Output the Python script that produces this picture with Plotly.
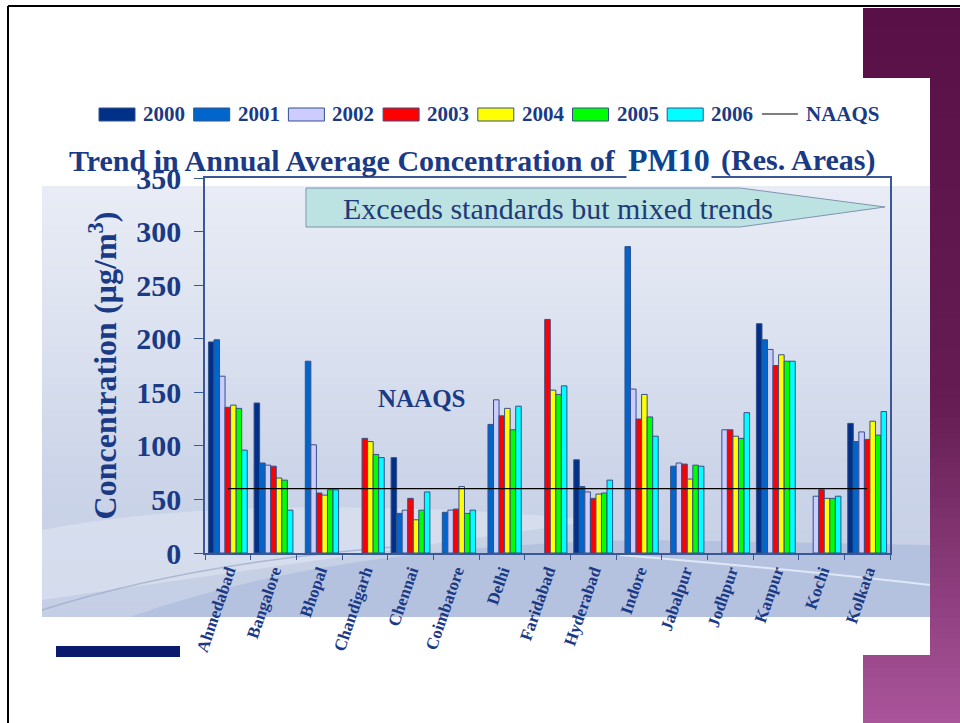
import plotly.graph_objects as go

cities = ["Ahmedabad", "Bangalore", "Bhopal", "Chandigarh", "Chennai", "Coimbatore",
          "Delhi", "Faridabad", "Hyderabad", "Indore", "Jabalpur", "Jodhpur",
          "Kanpur", "Kochi", "Kolkata"]
years = ["2000", "2001", "2002", "2003", "2004", "2005", "2006"]
y2000 = [197, 140, None, None, 89, None, None, None, 87, None, None, None, 214, None, 121]
y2001 = [199, 84, 179, None, 37, 38, 120, None, 62, 286, 81, None, 199, None, 104]
y2002 = [165, 82, 101, None, 40, 40, 143, None, 57, 153, 84, 115, 190, 53, 113]
y2003 = [136, 81, 56, 107, 51, 41, 128, 218, 51, 125, 83, 115, 175, 59, 106]
y2004 = [138, 70, 54, 104, 31, 62, 135, 152, 55, 148, 69, 109, 185, 51, 123]
y2005 = [135, 68, 59, 92, 40, 37, 115, 148, 56, 127, 82, 107, 179, 51, 110]
y2006 = [96, 40, 59, 89, 57, 40, 137, 156, 68, 109, 81, 131, 179, 53, 132]
naaqs = [60] * len(cities)
series = [y2000, y2001, y2002, y2003, y2004, y2005, y2006]
colors = ["#003087", "#0066cc", "#ccccff", "#ff0000", "#ffff00", "#00ff00", "#00ffff"]

W, H = 960, 723
PL, PR, PT, PB = 205, 890, 178, 553
NAVY = "#1b3a85"
SERIF = "Liberation Serif"


def fx(px):
    return (px - PL) / (PR - PL)


def fy(py):
    return (PB - py) / (PB - PT)


fig = go.Figure()
for name, vals, col in zip(years, series, colors):
    fig.add_trace(go.Bar(x=cities, y=vals, name=name, marker=dict(color=col, line=dict(color="#34508a", width=1)),
                         showlegend=False))
fig.add_trace(go.Scatter(x=cities, y=naaqs, mode="lines", name="NAAQS",
                         line=dict(color="black", width=1.2), showlegend=False))

shapes = []
annotations = []


def ann(px, py, text, size, color=NAVY, xanchor="center", yanchor="middle", **kw):
    d = dict(x=fx(px), y=fy(py), xref="paper", yref="paper", text=text, showarrow=False,
             xanchor=xanchor, yanchor=yanchor, font=dict(family=SERIF, size=size, color=color))
    d.update(kw)
    annotations.append(d)


def lerp(c1, c2, t):
    return tuple(int(round(a + (b - a) * t)) for a, b in zip(c1, c2))


# background gradient band
stops = [(186, (233, 236, 245)), (330, (220, 226, 240)), (480, (203, 212, 232)), (617, (196, 206, 228))]
ys = list(range(186, 617, 8)) + [617]
bg_rects = []
for i in range(len(ys) - 1):
    yc = (ys[i] + ys[i + 1]) / 2
    for j in range(len(stops) - 1):
        if stops[j][0] <= yc <= stops[j + 1][0]:
            t = (yc - stops[j][0]) / (stops[j + 1][0] - stops[j][0])
            c = lerp(stops[j][1], stops[j + 1][1], t)
            break
    bg_rects.append(dict(type="rect", xref="paper", yref="paper", layer="below",
                         x0=fx(42), x1=fx(930), y0=fy(ys[i + 1]), y1=fy(ys[i]),
                         fillcolor="rgb(%d,%d,%d)" % c, line=dict(width=0)))


def P(px, py):
    return "%f,%f" % (fx(px), fy(py))


# purple decoration on the right
pstops = [(8, (88, 16, 70)), (400, (100, 28, 82)), (723, (170, 85, 155))]
pys = list(range(8, 723, 10)) + [723]
for i in range(len(pys) - 1):
    yc = (pys[i] + pys[i + 1]) / 2
    for j in range(len(pstops) - 1):
        if pstops[j][0] <= yc <= pstops[j + 1][0]:
            t = (yc - pstops[j][0]) / (pstops[j + 1][0] - pstops[j][0])
            c = lerp(pstops[j][1], pstops[j + 1][1], t)
            break
    shapes.append(dict(type="rect", xref="paper", yref="paper", layer="below",
                       x0=fx(863), x1=fx(961), y0=fy(pys[i + 1]), y1=fy(pys[i]),
                       fillcolor="rgb(%d,%d,%d)" % c, line=dict(width=0)))
shapes.append(dict(type="rect", xref="paper", yref="paper", layer="below",
                   x0=fx(863), x1=fx(930), y0=fy(655), y1=fy(78),
                   fillcolor="white", line=dict(width=0)))
shapes.extend(bg_rects)

# light swoosh and dark wave at the bottom
shapes.append(dict(type="path", xref="paper", yref="paper", layer="below",
                   path="M%s Q%s %s L%s Z" % (P(42, 530), P(250, 490), P(600, 520), P(42, 600)),
                   fillcolor="rgba(228,234,246,0.5)", line=dict(width=0)))
shapes.append(dict(type="path", xref="paper", yref="paper", layer="below",
                   path="M%s Q%s %s L%s L%s Z" % (P(130, 617), P(330, 545), P(650, 540), P(930, 545), P(930, 617)),
                   fillcolor="rgb(180,194,224)", line=dict(width=0)))
shapes.append(dict(type="path", xref="paper", yref="paper", layer="below",
                   path="M%s Q%s %s" % (P(42, 610), P(200, 560), P(420, 545)),
                   line=dict(color="rgba(160,175,205,0.8)", width=1.5)))
shapes.append(dict(type="path", xref="paper", yref="paper", layer="below",
                   path="M%s Q%s %s" % (P(620, 555), P(800, 570), P(930, 585)),
                   line=dict(color="rgba(235,240,250,0.8)", width=2)))

# black slide border
shapes.append(dict(type="line", xref="paper", yref="paper", x0=fx(8), x1=fx(961), y0=fy(6), y1=fy(6),
                   line=dict(color="black", width=2)))
shapes.append(dict(type="line", xref="paper", yref="paper", x0=fx(8), x1=fx(8), y0=fy(6), y1=fy(724),
                   line=dict(color="black", width=2)))
# navy bar bottom-left
shapes.append(dict(type="rect", xref="paper", yref="paper", x0=fx(56), x1=fx(180), y0=fy(657), y1=fy(646),
                   fillcolor="#0c1a6e", line=dict(width=0)))

# arrow
shapes.append(dict(type="path", xref="paper", yref="paper", layer="above",
                   path="M%s L%s L%s L%s L%s Z" % (P(306, 188), P(740, 188), P(885, 207), P(740, 227), P(306, 227)),
                   fillcolor="#bde2e2", line=dict(color="#7f94b3", width=1)))
ann(558, 208, "Exceeds standards but mixed trends", 30, color="#1f3a78")

# NAAQS label
ann(422, 398, "<b>NAAQS</b>", 25)

# title
ann(67, 160, "<b>Trend in Annual Average Concentration of</b>", 30, xanchor="left")
ann(669, 160, "<b>PM10</b>", 32, color="#0b4592", bgcolor="white", borderpad=1)
ann(877, 160, "<b>(Res. Areas)</b>", 30, xanchor="right")

# manual legend
leg_x0 = 99
step = 94.7
for i, (name, col) in enumerate(zip(years, colors)):
    x0 = leg_x0 + i * step
    shapes.append(dict(type="rect", xref="paper", yref="paper", x0=fx(x0), x1=fx(x0 + 36),
                       y0=fy(121), y1=fy(108), fillcolor=col, line=dict(color="#34508a", width=1)))
    ann(x0 + 42, 114, "<b>%s</b>" % name, 21, xanchor="left")
x0 = leg_x0 + 7 * step
shapes.append(dict(type="line", xref="paper", yref="paper", x0=fx(x0), x1=fx(x0 + 36),
                   y0=fy(114), y1=fy(114), line=dict(color="black", width=1.2)))
ann(x0 + 42, 114, "<b>NAAQS</b>", 21, xanchor="left")

fig.update_layout(
    width=W, height=H,
    margin=dict(l=PL, r=W - PR, t=PT, b=H - PB, pad=0),
    paper_bgcolor="white", plot_bgcolor="rgba(0,0,0,0)",
    barmode="group", bargap=0.15, bargroupgap=0,
    shapes=shapes, annotations=annotations,
    showlegend=False,
)
fig.update_xaxes(showline=True, linecolor="#3a5896", linewidth=1.5, mirror=True,
                 ticks="outside", tickson="boundaries", ticklen=5, tickcolor="#3a5896",
                 tickangle=-71, tickfont=dict(family=SERIF, size=17, color=NAVY),
                 showgrid=False, categoryorder="array", categoryarray=cities,
                 tickvals=cities, ticktext=["<b>%s</b>" % c for c in cities])
fig.update_yaxes(range=[0, 350], dtick=50, showline=True, linecolor="#3a5896", linewidth=1.5, mirror=True,
                 ticks="outside", ticklen=9, tickcolor="#3a5896", showgrid=False, zeroline=False,
                 ticklabelstandoff=7, tickprefix="<b>", ticksuffix="</b>",
                 tickfont=dict(family=SERIF, size=30, color=NAVY),
                 title=dict(text="<b>Concentration (µg/m<sup>3</sup>)</b>", standoff=10,
                            font=dict(family=SERIF, size=32, color=NAVY)))

fig.write_html("out.html")
